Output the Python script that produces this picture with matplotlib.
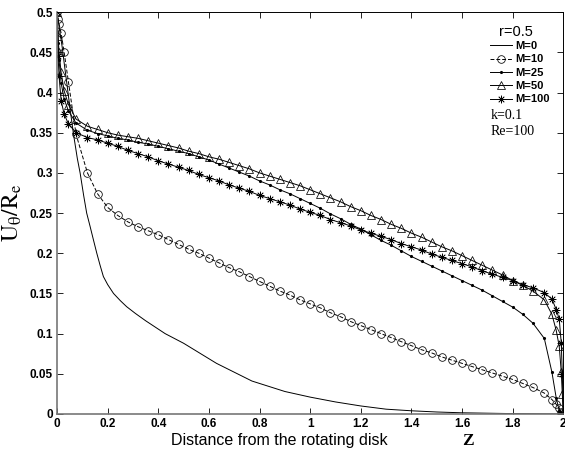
import matplotlib
matplotlib.use('Agg')
import matplotlib.pyplot as plt

# grid along z (denser near both disks)
z = [0, 0.004, 0.008, 0.016, 0.028, 0.045, 0.075, 0.12,
     0.16, 0.20, 0.24, 0.28, 0.32, 0.36, 0.40, 0.44, 0.48, 0.52, 0.56,
     0.60, 0.64, 0.68, 0.72, 0.76, 0.80, 0.84, 0.88, 0.92, 0.96, 1.00,
     1.04, 1.08, 1.12, 1.16, 1.20, 1.24, 1.28, 1.32, 1.36, 1.40, 1.44,
     1.48, 1.52, 1.56, 1.60, 1.64, 1.68, 1.72, 1.76, 1.80, 1.84, 1.88,
     1.925, 1.955, 1.972, 1.984, 1.992, 1.996, 2.0]

m10 = [0.500, 0.492, 0.485, 0.474, 0.450, 0.413, 0.348, 0.300,
       0.274, 0.257, 0.247, 0.239, 0.233, 0.228, 0.223, 0.217, 0.211, 0.205, 0.200,
       0.194, 0.188, 0.182, 0.177, 0.171, 0.165, 0.159, 0.153, 0.148, 0.142, 0.137,
       0.132, 0.126, 0.121, 0.115, 0.110, 0.105, 0.100, 0.095, 0.090, 0.085, 0.080,
       0.076, 0.071, 0.067, 0.063, 0.059, 0.055, 0.051, 0.047, 0.043, 0.038, 0.033,
       0.026, 0.018, 0.012, 0.007, 0.003, 0.001, 0.0]

m25 = [0.500, 0.462, 0.440, 0.412, 0.392, 0.377, 0.362, 0.353,
       0.349, 0.346, 0.343, 0.341, 0.338, 0.336, 0.333, 0.330, 0.327, 0.324, 0.320,
       0.316, 0.311, 0.306, 0.301, 0.296, 0.290, 0.285, 0.279, 0.274, 0.268, 0.262,
       0.256, 0.249, 0.243, 0.236, 0.230, 0.223, 0.216, 0.210, 0.203, 0.196, 0.190,
       0.184, 0.178, 0.172, 0.166, 0.160, 0.154, 0.147, 0.140, 0.133, 0.124, 0.113,
       0.094, 0.052, 0.020, 0.004, 0.0, 0.0, 0.0]

m50 = [0.500, 0.470, 0.450, 0.425, 0.402, 0.385, 0.367, 0.358,
       0.354, 0.350, 0.347, 0.345, 0.343, 0.340, 0.337, 0.334, 0.331, 0.327, 0.324,
       0.320, 0.317, 0.313, 0.309, 0.305, 0.300, 0.296, 0.292, 0.288, 0.284, 0.279,
       0.274, 0.269, 0.264, 0.258, 0.253, 0.247, 0.242, 0.236, 0.231, 0.225, 0.220,
       0.214, 0.208, 0.203, 0.197, 0.191, 0.185, 0.179, 0.173, 0.166, 0.160, 0.153,
       0.142, 0.124, 0.104, 0.084, 0.052, 0.025, 0.0]

m100 = [0.500, 0.445, 0.420, 0.390, 0.373, 0.361, 0.350, 0.344,
        0.341, 0.337, 0.333, 0.328, 0.324, 0.320, 0.315, 0.311, 0.307, 0.303, 0.298,
        0.294, 0.290, 0.285, 0.281, 0.277, 0.272, 0.268, 0.264, 0.260, 0.255, 0.251,
        0.247, 0.242, 0.238, 0.234, 0.229, 0.225, 0.221, 0.217, 0.212, 0.208, 0.204,
        0.199, 0.195, 0.191, 0.187, 0.183, 0.178, 0.174, 0.170, 0.166, 0.161, 0.157,
        0.151, 0.143, 0.130, 0.118, 0.088, 0.050, 0.0]

# M=0 is drawn as a plain line, so its own coarser grid
z0 = [0, 0.01, 0.02, 0.03, 0.04, 0.05, 0.064, 0.08, 0.091, 0.105, 0.117, 0.13,
      0.145, 0.157, 0.17, 0.183, 0.2, 0.223, 0.25, 0.275, 0.31, 0.35, 0.427,
      0.5, 0.63, 0.77, 0.9, 1.0, 1.1, 1.2, 1.3, 1.4, 1.5, 1.6, 1.7, 1.8, 1.9, 2.0]
m0 = [0.5, 0.478, 0.457, 0.432, 0.408, 0.383, 0.350, 0.318, 0.300, 0.272, 0.250, 0.234,
      0.215, 0.200, 0.185, 0.171, 0.161, 0.150, 0.141, 0.1335, 0.125, 0.116, 0.100,
      0.088, 0.063, 0.041, 0.028, 0.021, 0.015, 0.010, 0.006, 0.004, 0.0025, 0.0015,
      0.001, 0.0005, 0.0002, 0.0]

xticks = [0, 0.2, 0.4, 0.6, 0.8, 1, 1.2, 1.4, 1.6, 1.8, 2]
xticklabels = ['0', '0.2', '0.4', '0.6', '0.8', '1', '1.2', '1.4', '1.6', '1.8', '2']
yticks = [0, 0.05, 0.1, 0.15, 0.2, 0.25, 0.3, 0.35, 0.4, 0.45, 0.5]
yticklabels = ['0', '0.05', '0.1', '0.15', '0.2', '0.25', '0.3', '0.35', '0.4', '0.45', '0.5']

plt.rcParams['font.family'] = 'Liberation Sans'
plt.rcParams['mathtext.fontset'] = 'stix'

fig = plt.figure(figsize=(5.65, 4.5), dpi=100)
ax = fig.add_axes([0.101, 0.08, 0.896, 0.893])

lw = 0.7
ax.plot(z0, m0, '-', color='black', lw=lw, label='M=0')
ax.plot(z, m10, '--', color='black', lw=lw, marker='o', ms=5.5, mfc='none',
        mew=0.55, dashes=(4, 2), label='M=10')
ax.plot(z, m25, '-', color='black', lw=lw, marker='.', ms=2.5, label='M=25')
ax.plot(z, m50, '-', color='black', lw=lw, marker='^', ms=6, mfc='none',
        mew=0.55, label='M=50')
ax.plot(z, m100, '-', color='black', lw=lw, marker=(8, 2, 0), ms=5.5,
        mew=0.5, label='M=100')

ax.set_xlim(0, 2)
ax.set_ylim(0, 0.5)
ax.set_xticks(xticks)
ax.set_xticklabels(xticklabels, fontsize=8.5, fontweight='bold')
ax.set_yticks(yticks)
ax.set_yticklabels(yticklabels, fontsize=8.5, fontweight='bold')
ax.tick_params(direction='in', top=True, right=True, length=4, width=0.6, pad=3)

for s in ['left', 'bottom']:
    ax.spines[s].set_color('#777777')
    ax.spines[s].set_linewidth(1.2)
for s in ['top', 'right']:
    ax.spines[s].set_linewidth(0.7)

ax.set_xlabel('Distance from the rotating disk', fontsize=11.5, labelpad=2)
ax.xaxis.set_label_coords(0.44, -0.047)
fig.text(0.818, 0.012, 'Z', fontsize=12.5, family='Liberation Serif', fontweight='bold')
ax.set_ylabel(r'$\mathrm{U_\theta/R_e}$', fontsize=17, labelpad=4)

leg = ax.legend(loc='upper left', bbox_to_anchor=(0.855, 0.928), frameon=False,
                fontsize=8, handlelength=2.0, handletextpad=0.3,
                labelspacing=0.3, borderpad=0, borderaxespad=0)
for t in leg.get_texts():
    t.set_fontweight('bold')

ax.text(0.872, 0.95, 'r=0.5', transform=ax.transAxes, fontsize=10.5, va='center')
ax.text(0.856, 0.742, 'k=0.1', transform=ax.transAxes, fontsize=10,
        family='Liberation Serif', va='center')
ax.text(0.856, 0.704, 'Re=100', transform=ax.transAxes, fontsize=10,
        family='Liberation Serif', va='center')

fig.savefig('out.png', dpi=100)
